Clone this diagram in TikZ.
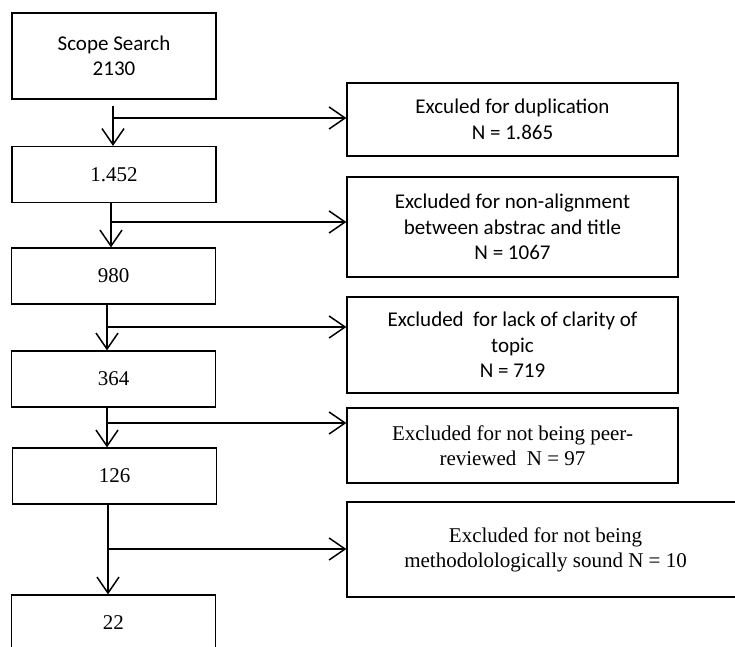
\documentclass[tikz,border=0pt]{standalone}
\usepackage{fontspec}
\setmainfont{Liberation Serif}
\newfontfamily\calibri{Carlito}
\usetikzlibrary{arrows.meta}

\begin{document}
\begin{tikzpicture}[x=0.5pt,y=-0.5pt,>={Straight Barb[length=8pt,width=11pt]},line width=0.75pt]
\tikzstyle{lbox} = [draw,line width=0.6pt,inner sep=0pt,minimum width=102pt,minimum height=28pt,font=\fontsize{10.5}{12.5}\selectfont]
\tikzstyle{rbox} = [draw,line width=0.6pt,inner sep=0pt,minimum width=165.5pt,align=center,font=\calibri\fontsize{10.5}{12.75}\selectfont]
\tikzstyle{tbox} = [rbox,font=\fontsize{10.5}{12.5}\selectfont]
    \useasboundingbox (0,0) rectangle (735,647);
    \clip (0,0) rectangle (735,647);

    \node[lbox,minimum height=43pt,align=center,font=\calibri\fontsize{10.5}{12.5}\selectfont] (scope) at (114,56) {Scope Search\\2130};
    \node[lbox] (n1452) at (114,174.5) {1.452};
    \node[lbox] (n980) at (113.5,276) {980};
    \node[lbox] (n364) at (113.5,379) {364};
    \node[lbox] (n126) at (114.5,476) {126};
    \node[lbox] (n22) at (113.5,623) {22};

    \node[rbox,minimum height=36.5pt] (dup) at (512.5,119.5) {Exculed for duplication\\N = 1.865};
    \node[rbox,minimum height=50pt] (align) at (512.5,227) {Excluded for non-alignment\\between abstrac and title\\N = 1067};
    \node[rbox,minimum height=48pt] (clar) at (512.5,345) {Excluded\ \ for lack of clarity of\\topic\\N = 719};
    \node[tbox,minimum height=37.5pt] (peer) at (512.5,445.5) {Excluded for not being peer-\\reviewed\ \ N = 97};
    \node[tbox,minimum width=198.5pt,minimum height=47.5pt] (meth) at (545.5,549.5) {Excluded for not being\\methodolologically sound N = 10};

    \coordinate (b1) at (113,118);
    \coordinate (b2) at (111,222);
    \coordinate (b3) at (107,327);
    \coordinate (b4) at (107,423);
    \coordinate (b5) at (108,549);

    \draw[->,shorten <=3pt] (scope.south -| b1) -- (n1452.north -| b1);
    \draw[->] (n1452.south -| b2) -- (n980.north -| b2);
    \draw[->] (n980.south -| b3) -- (n364.north -| b3);
    \draw[->] (n364.south -| b4) -- (n126.north -| b4);
    \draw[->] (n126.south -| b5) -- (n22.north -| b5);

    \draw[->] (b1) -- (b1 -| dup.west);
    \draw[->] (b2) -- (b2 -| align.west);
    \draw[->] (b3) -- (b3 -| clar.west);
    \draw[->] (b4) -- (b4 -| peer.west);
    \draw[->] (b5) -- (b5 -| meth.west);
\end{tikzpicture}
\end{document}
